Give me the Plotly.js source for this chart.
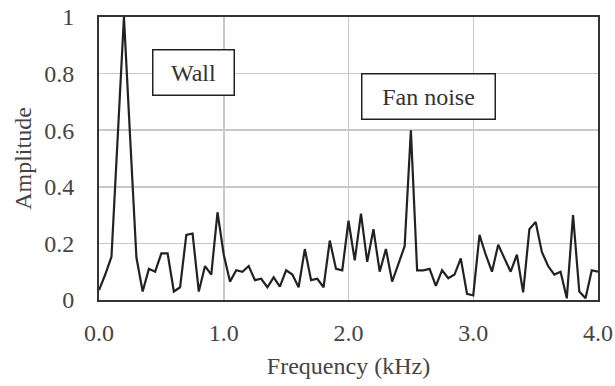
<!DOCTYPE html>
<html>
<head>
<meta charset="utf-8">
<script src="https://cdn.plot.ly/plotly-3.0.1.min.js"></script>
<style>html,body{margin:0;padding:0;background:#fff;}#chart{width:615px;height:386px;}</style>
</head>
<body>
<div id="chart"></div>
<script>
// Frequency bins (kHz), step 0.05
var frequencyKHz = [0.00,0.05,0.10,0.15,0.20,0.25,0.30,0.35,0.40,0.45,0.50,0.55,0.60,0.65,0.70,0.75,0.80,0.85,0.90,0.95,1.00,1.05,1.10,1.15,1.20,1.25,1.30,1.35,1.40,1.45,1.50,1.55,1.60,1.65,1.70,1.75,1.80,1.85,1.90,1.95,2.00,2.05,2.10,2.15,2.20,2.25,2.30,2.35,2.40,2.45,2.50,2.55,2.60,2.65,2.70,2.75,2.80,2.85,2.90,2.95,3.00,3.05,3.10,3.15,3.20,3.25,3.30,3.35,3.40,3.45,3.50,3.55,3.60,3.65,3.70,3.75,3.80,3.85,3.90,3.95,4.00];
var amplitude = [0.035,0.09,0.153,0.58,1.0,0.57,0.15,0.03,0.11,0.10,0.165,0.165,0.03,0.045,0.23,0.235,0.03,0.12,0.09,0.31,0.16,0.065,0.105,0.10,0.12,0.07,0.075,0.045,0.08,0.047,0.105,0.09,0.045,0.18,0.07,0.075,0.045,0.21,0.11,0.105,0.28,0.14,0.305,0.135,0.25,0.10,0.18,0.065,0.13,0.19,0.60,0.105,0.105,0.11,0.05,0.105,0.077,0.09,0.147,0.022,0.016,0.23,0.16,0.10,0.195,0.147,0.10,0.16,0.027,0.25,0.276,0.17,0.12,0.09,0.10,0.006,0.30,0.03,0.006,0.105,0.10];
var xTickVals = [0,1,2,3,4];
var xTickText = ["0.0","1.0","2.0","3.0","4.0"];
var yTickVals = [0,0.2,0.4,0.6,0.8,1];
var yTickText = ["0","0.2","0.4","0.6","0.8","1"];
var labels = ["Wall","Fan noise"];
var labelX = [0.76,2.64];
var labelY = [0.805,0.718];

var font = "Liberation Serif";
var trace = {
  x: frequencyKHz, y: amplitude, type: "scatter", mode: "lines",
  line: {color: "#222", width: 2.2}, cliponaxis: false, hoverinfo: "skip"
};
var ann = labels.map(function(t,i){
  return {x: labelX[i], y: labelY[i], xref: "x", yref: "y", text: t, showarrow: false,
    font: {family: font, size: 24, color: "#333"},
    bgcolor: "#fff", bordercolor: "#222", borderwidth: 1.5, borderpad: 2,
    width: i === 0 ? 76 : 128, height: 40};
});
var layout = {
  width: 615, height: 386,
  margin: {l: 99, r: 17, t: 17, b: 86},
  paper_bgcolor: "#fff", plot_bgcolor: "#fff",
  showlegend: false,
  font: {family: font, size: 24, color: "#444"},
  xaxis: {
    range: [0,4], tickvals: xTickVals, ticktext: xTickText,
    showgrid: true, gridcolor: "#c8c8c8", gridwidth: 1.5,
    showline: true, linecolor: "#333", linewidth: 2, mirror: true,
    ticks: "", ticklabelstandoff: 10, zeroline: false,
    tickfont: {family: font, size: 24, color: "#444"},
    title: {text: "Frequency (kHz)", font: {family: font, size: 24, color: "#444"}, standoff: 12}
  },
  yaxis: {
    range: [0,1], tickvals: yTickVals, ticktext: yTickText,
    showgrid: true, gridcolor: "#c8c8c8", gridwidth: 1.5,
    showline: true, linecolor: "#333", linewidth: 2, mirror: true,
    ticks: "", ticklabelstandoff: 18, zeroline: false,
    tickfont: {family: font, size: 24, color: "#444"},
    title: {text: "Amplitude", font: {family: font, size: 24, color: "#444"}, standoff: 6}
  },
  annotations: ann
};
Plotly.newPlot("chart", [trace], layout, {staticPlot: true, displayModeBar: false});
</script>
</body>
</html>
